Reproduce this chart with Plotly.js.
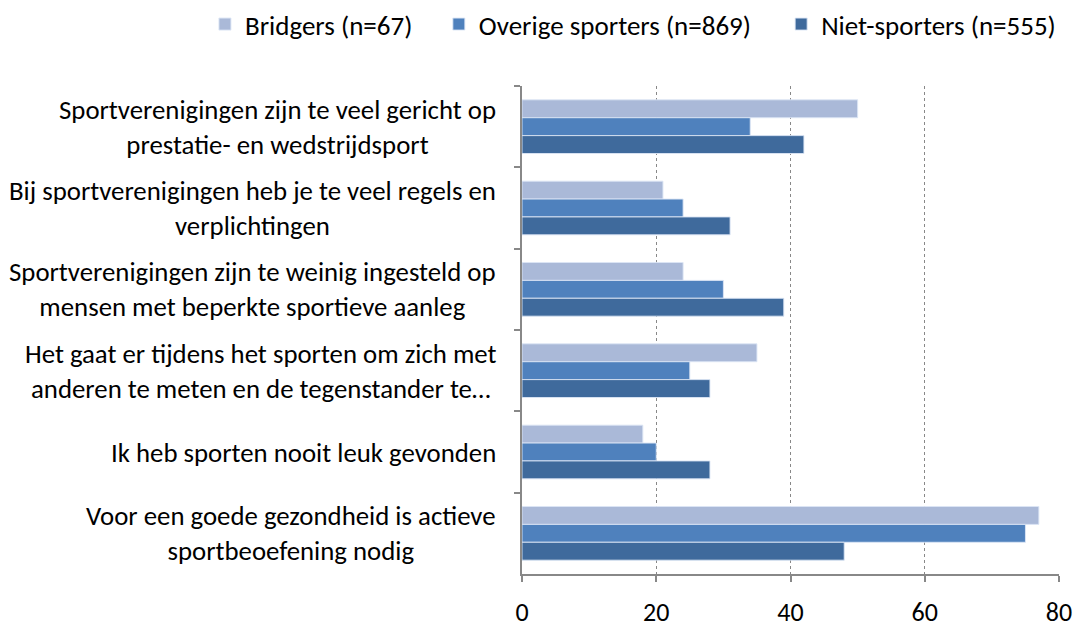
<!DOCTYPE html>
<html><head><meta charset="utf-8">
<script src="https://cdn.plot.ly/plotly-3.0.1.min.js"></script>
<style>body{margin:0;background:#fff}#chart{width:1073px;height:627px}</style>
</head><body><div id="chart"></div>
<script>
const categories = [
  "Sportverenigingen zijn te veel gericht op<br>prestatie- en wedstrijdsport",
  "Bij sportverenigingen heb je te veel regels en<br>verplichtingen",
  "Sportverenigingen zijn te weinig ingesteld op<br>mensen met beperkte sportieve aanleg",
  "Het gaat er tijdens het sporten om zich met<br>anderen te meten en de tegenstander te…",
  "Ik heb sporten nooit leuk gevonden",
  "Voor een goede gezondheid is actieve<br>sportbeoefening nodig"
];
const seriesNames = ["Bridgers (n=67)", "Overige sporters (n=869)", "Niet-sporters (n=555)"];
const bridgers = [50, 21, 24, 35, 18, 77];
const overige  = [34, 24, 30, 25, 20, 75];
const niet     = [42, 31, 39, 28, 28, 48];
const xTicks = [0, 20, 40, 60, 80];

const colors = ["#AAB9D8", "#4F81BD", "#3F6A9C"];
const FONT = "Carlito, Lato, 'Open Sans', sans-serif";
const legendIds = ["legend", "legend2", "legend3"];
const legendX = [0.191, 0.409, 0.728];
const cats = categories.map((c, i) => "c" + i);
const data = [bridgers, overige, niet].map((vals, k) => ({
  type: "bar", orientation: "h", name: seriesNames[k],
  x: vals, y: cats, legend: legendIds[k],
  marker: {color: colors[k], line: {color: "rgba(220,230,245,0.9)", width: 1}},
  hoverinfo: "x+name"
}));
const annotations = categories.map((c, i) => ({
  xref: "paper", yref: "y", x: 0, y: cats[i], xanchor: "right", yanchor: "middle",
  xshift: -24, yshift: 0, text: c, showarrow: false, align: "center",
  font: {family: FONT, size: 26.8, color: "#000"}
}));
const layout = {
  width: 1073, height: 627,
  margin: {l: 522, r: 14, t: 86, b: 53},
  paper_bgcolor: "#fff", plot_bgcolor: "#fff",
  barmode: "group", bargap: 0.34, bargroupgap: 0,
  font: {family: FONT, size: 26, color: "#000"},
  showlegend: true,
  xaxis: {range: [0, 80], tickvals: xTicks, ticktext: xTicks.map(String),
    showgrid: true, gridcolor: "#888", griddash: "dot", gridwidth: 1,
    zeroline: false, showline: true, linecolor: "#888", linewidth: 2,
    ticks: "outside", ticklen: 6, tickcolor: "#888", tickwidth: 2,
    ticklabelstandoff: 8,
    tickfont: {family: FONT, size: 26, color: "#000"}, fixedrange: true},
  yaxis: {categoryorder: "array", categoryarray: cats, autorange: "reversed",
    showticklabels: false, showline: true, linecolor: "#888", linewidth: 2,
    ticks: "outside", tickson: "boundaries", ticklen: 6, tickcolor: "#888", tickwidth: 2,
    showgrid: false, zeroline: false, fixedrange: true},
  annotations: annotations
};
legendIds.forEach((id, k) => {
  layout[id] = {orientation: "h", xref: "container", x: legendX[k], xanchor: "left",
    yref: "container", y: 1, yanchor: "top", bgcolor: "rgba(0,0,0,0)",
    font: {family: FONT, size: 27, color: "#000"}, itemwidth: 30};
});
Plotly.newPlot("chart", data, layout, {displayModeBar: false, staticPlot: true});
</script></body></html>
